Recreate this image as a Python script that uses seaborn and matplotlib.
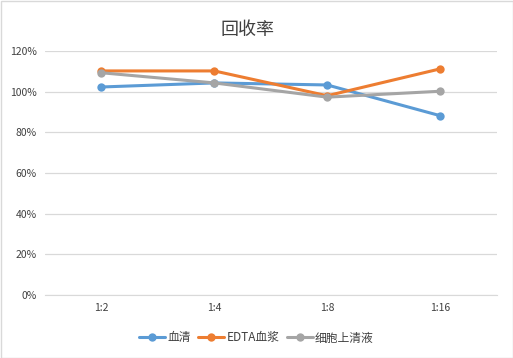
import matplotlib
matplotlib.use("Agg")
import matplotlib.pyplot as plt
import seaborn as sns
import pandas as pd
from matplotlib.ticker import FuncFormatter

categories = ["1:2", "1:4", "1:8", "1:16"]
serum = [1.023, 1.043, 1.033, 0.882]
edta_plasma = [1.102, 1.102, 0.980, 1.112]
cell_supernatant = [1.093, 1.043, 0.973, 1.002]
series_names = ["血清", "EDTA血浆", "细胞上清液"]
colors = ["#5B9BD5", "#ED7D31", "#A5A5A5"]

rows = []
for name, vals in zip(series_names, [serum, edta_plasma, cell_supernatant]):
    for c, v in zip(categories, vals):
        rows.append({"cat": c, "val": v, "series": name})
df = pd.DataFrame(rows)

sns.set_style("white")
plt.rcParams['font.family'] = ['Noto Sans CJK SC', 'DejaVu Sans']

fig = plt.figure(figsize=(5.13, 3.58), dpi=100)
ax = fig.add_axes([45/513, 63/358, 451.5/513, 244/358])

sns.lineplot(data=df, x="cat", y="val", hue="series", palette=colors,
             marker="o", markersize=6, markeredgewidth=0, linewidth=2.2,
             sort=False, ax=ax)

ax.set_xlim(-0.5, 3.5)
ax.set_ylim(0, 1.2)
ax.set_yticks([0, 0.2, 0.4, 0.6, 0.8, 1.0, 1.2])
ax.yaxis.set_major_formatter(FuncFormatter(lambda v, p: f"{round(v*100)}%"))
ax.grid(axis="y", color="#D9D9D9", linewidth=0.9)
ax.set_axisbelow(True)
for s in ["left", "right", "top"]:
    ax.spines[s].set_visible(False)
ax.spines["bottom"].set_color("#D9D9D9")
ax.tick_params(axis="both", length=0, labelsize=7.5, colors="#404040", pad=6)
ax.set_xlabel("")
ax.set_ylabel("")

fig.text(248/513, 1 - 30/358, "回收率", ha="center", va="center", fontsize=13, color="#404040")

handles, labels = ax.get_legend_handles_labels()
ax.legend(handles, labels, loc="center", bbox_to_anchor=(0.5, 20/358), bbox_transform=fig.transFigure,
          ncol=3, frameon=False, fontsize=8.5, handlelength=2.2, handletextpad=0.2, columnspacing=0.6,
          labelcolor="#404040")

fig.patches.append(plt.Rectangle((0.5/513, 0.5/358), 1 - 1/513, 1 - 1/358, transform=fig.transFigure,
                                 fill=False, edgecolor="#D9D9D9", linewidth=1))
fig.savefig("out.png", dpi=100)
